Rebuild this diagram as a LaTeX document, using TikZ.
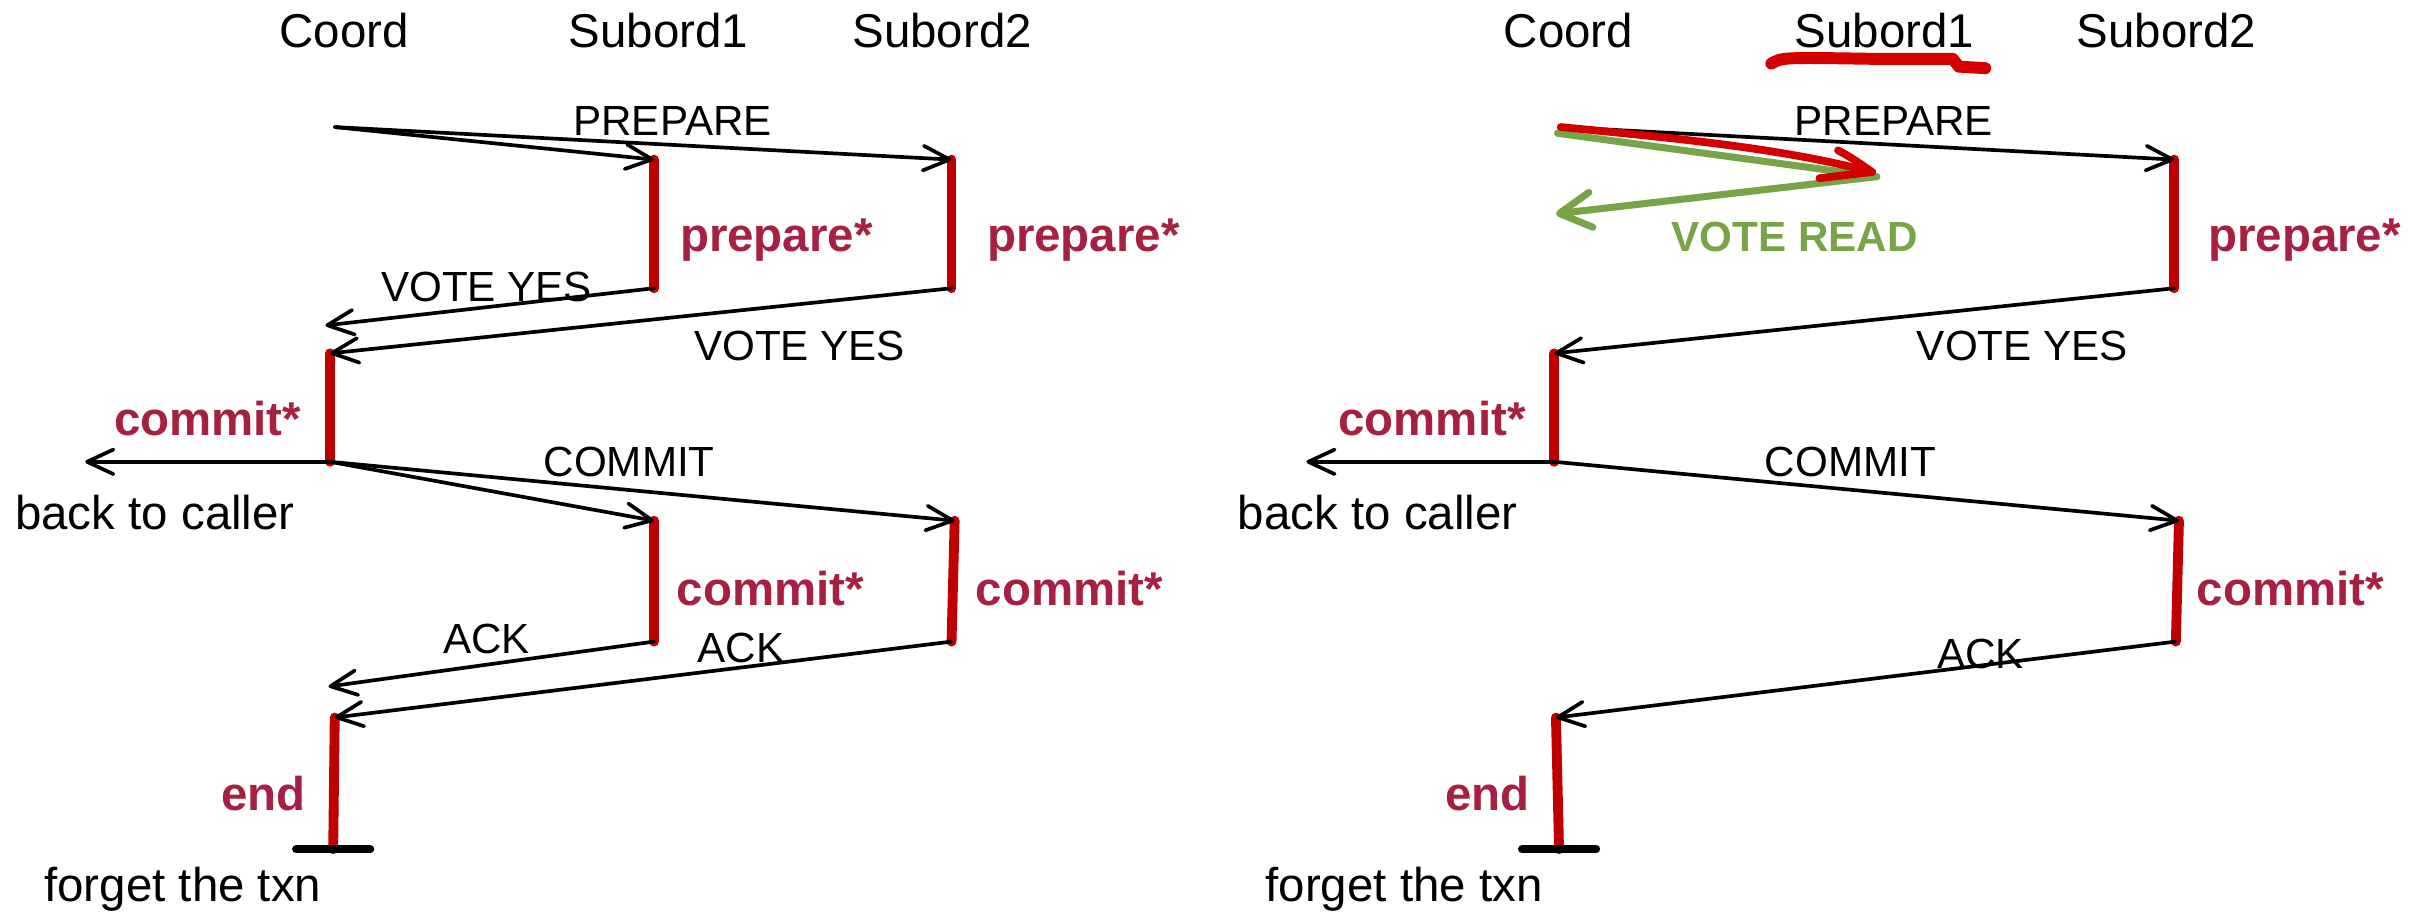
\documentclass[tikz,border=0pt]{standalone}
\usepackage{fontspec}
\setmainfont{Liberation Sans}
\usepackage{tikz}
\usetikzlibrary{arrows.meta}

\definecolor{barred}{HTML}{C00000}
\definecolor{statered}{HTML}{A6203F}
\definecolor{votegreen}{HTML}{78A448}
\definecolor{penred}{HTML}{D40000}

\tikzset{
  msg/.style={line width=1.05pt, line cap=round, -{Straight Barb[length=7.5pt,width=7pt,round]}},
  active/.style={draw=barred, line width=2.8pt, line cap=round},
  party/.style={inner sep=0pt, font=\fontsize{13.5}{16}\selectfont},
  msglabel/.style={inner sep=0pt, font=\fontsize{12}{14}\selectfont},
  state/.style={inner sep=0pt, text=statered, font=\fontsize{13.5}{16}\selectfont\bfseries},
  note/.style={inner sep=0pt, font=\fontsize{13.5}{16}\selectfont},
}

\begin{document}
\begin{tikzpicture}[x=0.155mm, y=-0.155mm]
% Set the size of the figure
\useasboundingbox (0,0) rectangle (1568,589);

%%% plain two-phase commit
\begin{scope}[name prefix=L-]
\node[party] (coord) at (222,20) {Coord};
\node[party] (sub1) at (425,20) {Subord1};
\node[party] (sub2) at (608,20) {Subord2};

\coordinate (c1) at (216,82);
\coordinate (s1a) at (422,103);
\coordinate (s1b) at (422,186);
\coordinate (s2a) at (614,103);
\coordinate (s2b) at (614,186);
\coordinate (v1) at (210,210);
\coordinate (c2a) at (213,228);
\coordinate (c2b) at (213,298);
\coordinate (back) at (55,298);
\coordinate (s1c) at (422,336);
\coordinate (s1d) at (422,414);
\coordinate (s2c) at (616,336);
\coordinate (s2d) at (614,414);
\coordinate (a1) at (212,443);
\coordinate (c3a) at (216,463);
\coordinate (c3b) at (215,548);

% log writes
\draw[active] (s1a) -- (s1b);
\draw[active] (s2a) -- (s2b);
\draw[active] (c2a) -- (c2b);
\draw[active] (s1c) -- (s1d);
\draw[active] (s2c) -- (s2d);
\draw[active] (c3a) -- (c3b);
\draw[line width=2.4pt, line cap=round] ([xshift=-10.5]c3b) -- ([xshift=10.5]c3b);

% messages
\draw[msg] (c1) -- (s1a);
\draw[msg] (c1) -- (s2a);
\draw[msg] (s1b) -- (v1);
\draw[msg] (s2b) -- (c2a);
\draw[msg] (c2b) -- (back);
\draw[msg] (c2b) -- (s1c);
\draw[msg] (c2b) -- (s2c);
\draw[msg] (s1d) -- (a1);
\draw[msg] (s2d) -- (c3a);

\node[msglabel] (prep) at (434,78) {PREPARE};
\node[msglabel] (yes1) at (314,185) {VOTE YES};
\node[msglabel] (yes2) at (516,223) {VOTE YES};
\node[msglabel] (com) at (406,298) {COMMIT};
\node[msglabel] (ack1) at (314,412) {ACK};
\node[msglabel] (ack2) at (478,418) {ACK};

\node[state] (p1) at (501,155) {prepare*};
\node[state] (p2) at (699,155) {prepare*};
\node[state] (cc) at (134,270) {commit*};
\node[state] (k1) at (497,380) {commit*};
\node[state] (k2) at (690,380) {commit*};
\node[state] (fin) at (170,512) {end};

\node[note] (ret) at (100,331) {back to caller};
\node[note] (forget) at (118,574) {forget the txn};
\end{scope}

%%% Subord1 only reads: it votes READ and drops out
\begin{scope}[shift={(790,0)}, name prefix=R-]
\node[party] (coord) at (222,20) {Coord};
\node[party] (sub1) at (426,20) {Subord1};
\node[party] (sub2) at (608,20) {Subord2};

\coordinate (c1) at (217,82);
\coordinate (s2a) at (613,103);
\coordinate (s2b) at (613,186);
\coordinate (c2a) at (213,228);
\coordinate (c2b) at (213,298);
\coordinate (back) at (53,298);
\coordinate (s2c) at (616,336);
\coordinate (s2d) at (614,414);
\coordinate (c3a) at (214,463);
\coordinate (c3b) at (216,548);
\coordinate (rd) at (421,114);
\coordinate (rdend) at (214,138);

\draw[active] (s2a) -- (s2b);
\draw[active] (c2a) -- (c2b);
\draw[active] (s2c) -- (s2d);
\draw[active] (c3a) -- (c3b);
\draw[line width=2.4pt, line cap=round] ([xshift=-10.5]c3b) -- ([xshift=10.5]c3b);

\draw[msg] (c1) -- (s2a);
\draw[msg] (s2b) -- (c2a);
\draw[msg] (c2b) -- (back);
\draw[msg] (c2b) -- (s2c);
\draw[msg] (s2d) -- (c3a);

% read-only vote, marked by hand
\draw[votegreen, line width=2pt, line cap=round] (215,86) -- (rd);
\draw[votegreen, line width=2pt, line cap=round, -{Straight Barb[length=9pt,width=10pt,round]}] (rd) -- (rdend);
\draw[penred, line width=2.2pt, line cap=round, line join=round]
  (c1) .. controls (300,90) and (360,96) .. (418,111);
\draw[penred, line width=2.2pt, line cap=round, line join=round]
  (396,97) .. controls (405,102) .. (418,111) -- (384,115);
\draw[penred, line width=3.4pt, line cap=round, line join=round]
  (353,41) .. controls (360,37) .. (420,38) -- (470,38) -- (474,43) -- (491,44);

\node[msglabel] (prep) at (432,78) {PREPARE};
\node[msglabel] (yes2) at (515,223) {VOTE YES};
\node[msglabel] (com) at (404,298) {COMMIT};
\node[msglabel] (ack2) at (488,422) {ACK};
\node[inner sep=0pt, text=votegreen, font=\fontsize{12}{14}\selectfont\bfseries] (read) at (368,153) {VOTE READ};

\node[state] (p2) at (697,155) {prepare*};
\node[state] (cc) at (134,270) {commit*};
\node[state] (k2) at (688,380) {commit*};
\node[state] (fin) at (170,512) {end};

\node[note] (ret) at (99,331) {back to caller};
\node[note] (forget) at (116,574) {forget the txn};
\end{scope}
\end{tikzpicture}
\end{document}
